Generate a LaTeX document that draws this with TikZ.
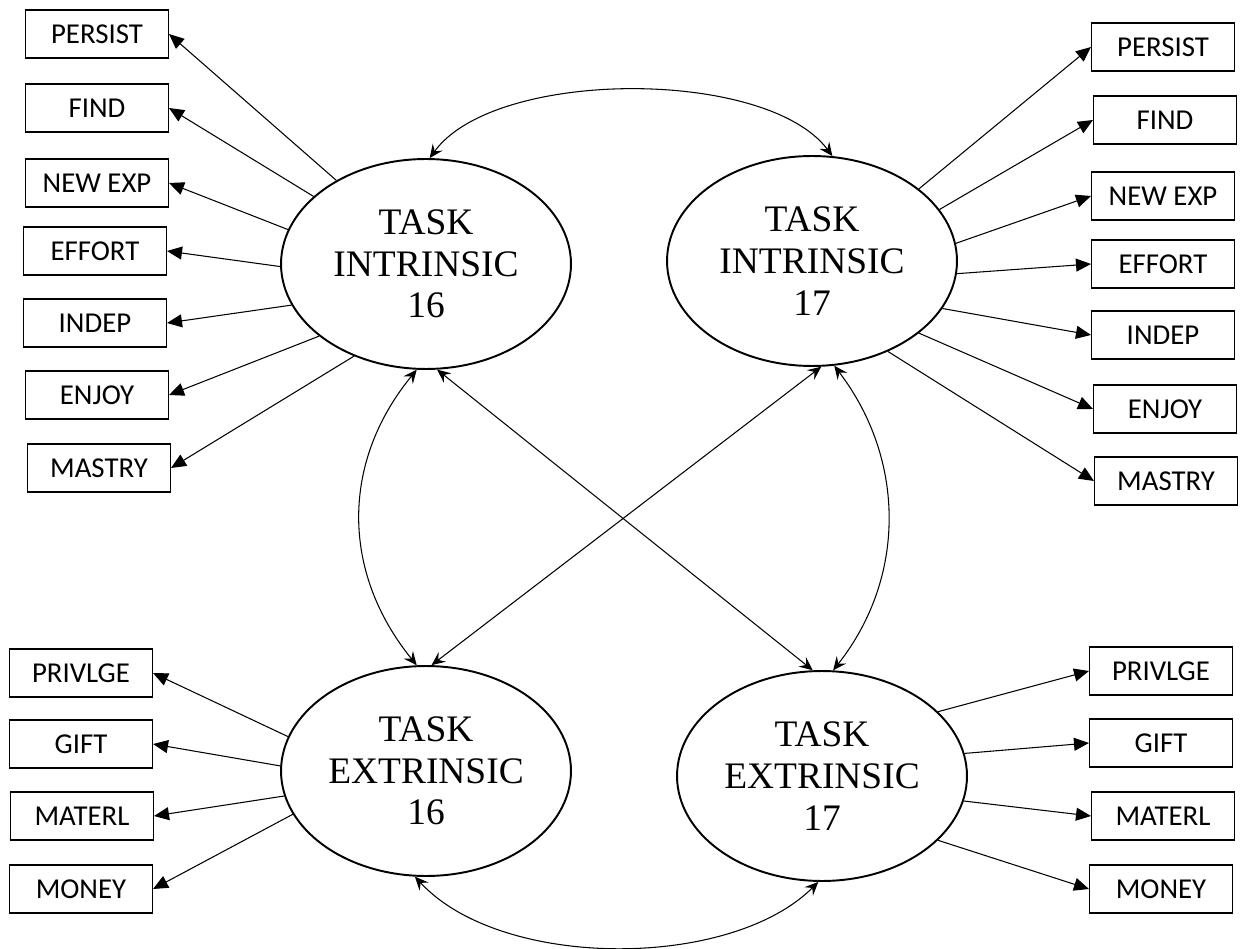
\documentclass[tikz,border=0pt]{standalone}
\usepackage{fontspec}
\setmainfont{Liberation Serif}
\newfontfamily\boxfont{Carlito}
\usetikzlibrary{arrows.meta,shapes.geometric}
\tikzset{>={Triangle[length=0.3cm,width=0.26cm]}}

\begin{document}
\begin{tikzpicture}[x=0.02cm,y=-0.02cm,
    lat/.style={ellipse,draw,line width=1.1pt,minimum width=5.8cm,minimum height=4.2cm,inner sep=0,
      align=center,font=\fontsize{21.3}{23.7}\selectfont},
    box/.style={draw,line width=0.6pt,minimum width=2.86cm,minimum height=0.96cm,inner sep=0,
      font=\boxfont\fontsize{16.4}{18}\selectfont},
    load/.style={->,line width=0.6pt},
    cov/.style={{Stealth[length=0.27cm,width=0.24cm,inset=0.1cm]}-{Stealth[length=0.27cm,width=0.24cm,inset=0.1cm]},line width=0.6pt}]
    \useasboundingbox (0,0) rectangle (1241,949);

    % latent factors
    \node[lat] (I16) at (426,264) {TASK\\INTRINSIC\\16};
    \node[lat] (I17) at (812,261) {TASK\\INTRINSIC\\17};
    \node[lat] (E16) at (426,771) {TASK\\EXTRINSIC\\16};
    \node[lat] (E17) at (822,776) {TASK\\EXTRINSIC\\17};

    % indicators, intrinsic 16
    \node[box] (per16) at (97,34) {PERSIST};
    \node[box] (fin16) at (97,108) {FIND};
    \node[box] (new16) at (97,183) {NEW EXP};
    \node[box] (eff16) at (95,251) {EFFORT};
    \node[box] (ind16) at (95,323) {INDEP};
    \node[box] (enj16) at (97,395) {ENJOY};
    \node[box] (mas16) at (99,468) {MASTRY};

    % indicators, intrinsic 17
    \node[box] (per17) at (1163,47) {PERSIST};
    \node[box] (fin17) at (1165,120) {FIND};
    \node[box] (new17) at (1163,196) {NEW EXP};
    \node[box] (eff17) at (1163,264) {EFFORT};
    \node[box] (ind17) at (1163,335) {INDEP};
    \node[box] (enj17) at (1165,409) {ENJOY};
    \node[box] (mas17) at (1166,481) {MASTRY};

    % indicators, extrinsic 16
    \node[box] (pri16) at (81,673) {PRIVLGE};
    \node[box] (gif16) at (81,744) {GIFT};
    \node[box] (mat16) at (82,816) {MATERL};
    \node[box] (mon16) at (81,889) {MONEY};

    % indicators, extrinsic 17
    \node[box] (pri17) at (1161,671) {PRIVLGE};
    \node[box] (gif17) at (1161,743) {GIFT};
    \node[box] (mat17) at (1163,816) {MATERL};
    \node[box] (mon17) at (1161,889) {MONEY};

    % loadings
    \draw[load] (I16.137) -- (per16.east);
    \draw[load] (I16.149) -- (fin16.east);
    \draw[load] (I16.166) -- (new16.east);
    \draw[load] (I16.181) -- (eff16.east);
    \draw[load] (I16.197) -- (ind16.east);
    \draw[load] (I16.214) -- (enj16.east);
    \draw[load] (I16.232) -- (mas16.east);

    \draw[load] (I17.34) -- (per17.west);
    \draw[load] (I17.22) -- (fin17.west);
    \draw[load] (I17.7) -- (new17.west);
    \draw[load] (I17.-5) -- (eff17.west);
    \draw[load] (I17.-20) -- (ind17.west);
    \draw[load] (I17.-34) -- (enj17.west);
    \draw[load] (I17.-50) -- (mas17.west);

    \draw[load] (E16.166) -- (pri16.east);
    \draw[load] (E16.178) -- (gif16.east);
    \draw[load] (E16.190) -- (mat16.east);
    \draw[load] (E16.198) -- (mon16.east);

    \draw[load] (E17.29) -- (pri17.west);
    \draw[load] (E17.9) -- (gif17.west);
    \draw[load] (E17.-10) -- (mat17.west);
    \draw[load] (E17.-29) -- (mon17.west);

    % covariances
    \draw[cov] (I16.88) .. controls (495,68) and (767,68) .. (I17.79);
    \draw[cov] (E16.264) .. controls (501,970) and (730,970) .. (E17.268);
    \draw[cov] (I16.265) .. controls (341,462) and (341,572) .. (E16.95);
    \draw[cov] (I17.282) .. controls (906,460) and (906,578) .. (E17.84);
    \draw[cov] (I16.276) -- (E17.95);
    \draw[cov] (E16.87) -- (I17.275);

    \end{tikzpicture}
\end{document}
